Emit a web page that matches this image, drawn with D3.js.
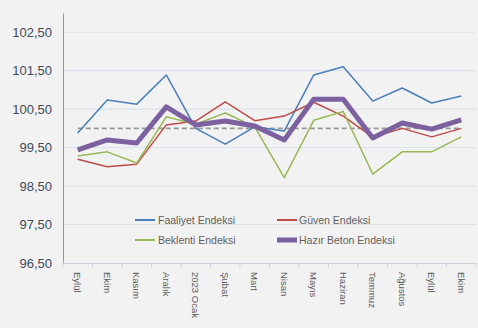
<!DOCTYPE html>
<html><head><meta charset="utf-8">
<script src="https://cdn.jsdelivr.net/npm/d3@7"></script>
<style>html,body{margin:0;padding:0;background:#f2f2f2;}svg{display:block;}</style>
</head><body>
<svg id="c" width="478" height="328"></svg>
<script>
const categories = ["Eylül","Ekim","Kasım","Aralık","2023 Ocak","Şubat","Mart","Nisan","Mayıs","Haziran","Temmuz","Ağustos","Eylül","Ekim"];
const faaliyet = [99.88,100.74,100.63,101.39,100.00,99.59,100.04,99.93,101.39,101.60,100.71,101.05,100.66,100.84];
const guven    = [99.20,99.00,99.07,100.09,100.19,100.69,100.20,100.32,100.68,100.32,99.77,100.00,99.78,100.00];
const beklenti = [99.28,99.39,99.10,100.30,100.11,100.40,100.04,98.72,100.21,100.44,98.81,99.39,99.39,99.78];
const hazir    = [99.44,99.70,99.62,100.56,100.09,100.19,100.06,99.70,100.76,100.76,99.75,100.14,99.98,100.22];
const refValue = 100;
const yTicks = [96.5,97.5,98.5,99.5,100.5,101.5,102.5];
const seriesNames = ["Faaliyet Endeksi","Güven Endeksi","Beklenti Endeksi","Hazır Beton Endeksi"];

const svg = d3.select("#c");
const mLeft = 63, mRight = 476, mTop = 13, mBottom = 263;
const x = d3.scaleBand().domain(d3.range(categories.length)).range([mLeft, mRight]);
const y = d3.scaleLinear().domain([96.5, 103]).range([mBottom, mTop]);
const fmt = v => d3.format(".2f")(v).replace(".", ",");

// gridlines
svg.append("g").selectAll("line").data(yTicks.slice(1)).join("line")
  .attr("x1", mLeft).attr("x2", mRight)
  .attr("y1", d => y(d)).attr("y2", d => y(d))
  .attr("stroke", "#d6e0ec").attr("stroke-width", 1);

// y axis
const ya = svg.append("g").attr("transform", `translate(${mLeft},0)`)
  .call(d3.axisLeft(y).tickValues(yTicks).tickFormat(fmt).tickSize(0).tickPadding(11));
ya.select(".domain").attr("stroke", "#8498b8");
ya.selectAll("text").attr("font-family", "Liberation Sans, Arial, sans-serif").attr("font-size", 13).attr("fill", "#3f4a5a");

// x axis
const xa = svg.append("g").attr("transform", `translate(0,${mBottom})`)
  .call(d3.axisBottom(x).tickFormat(i => categories[i]).tickSize(0));
xa.select(".domain").attr("stroke", "#c9d3df");
xa.selectAll(".tick text")
  .attr("font-family", "Liberation Sans, Arial, sans-serif").attr("font-size", 9.5).attr("fill", "#5a5a5a")
  .attr("transform", "rotate(90)").attr("text-anchor", "start")
  .attr("x", 9).attr("y", 0).attr("dy", "0.35em");
// band boundary ticks
svg.append("g").selectAll("line").data(d3.range(categories.length + 1)).join("line")
  .attr("x1", i => mLeft + i * x.step()).attr("x2", i => mLeft + i * x.step())
  .attr("y1", mBottom).attr("y2", mBottom + 4)
  .attr("stroke", "#c9d3df");

const cx = i => x(i) + x.bandwidth() / 2;
const line = d3.line().x((d, i) => cx(i)).y(d => y(d));

// reference dashed line
svg.append("line")
  .attr("x1", cx(0)).attr("x2", cx(categories.length - 1))
  .attr("y1", y(refValue)).attr("y2", y(refValue))
  .attr("stroke", "#999").attr("stroke-width", 1.6).attr("stroke-dasharray", "5,3");

const series = [
  {name: seriesNames[0], data: faaliyet, color: "#4a7ebb", w: 1.5},
  {name: seriesNames[1], data: guven, color: "#be4b48", w: 1.5},
  {name: seriesNames[2], data: beklenti, color: "#98b954", w: 1.5},
  {name: seriesNames[3], data: hazir, color: "#7d60a0", w: 5}
];
series.forEach(s => {
  svg.append("path").datum(s.data).attr("d", line)
    .attr("fill", "none").attr("stroke", s.color).attr("stroke-width", s.w)
    .attr("stroke-linejoin", "round");
});

// legend
const legPos = [[135, 220], [277, 220], [135, 240], [277, 240]];
series.forEach((s, i) => {
  const [lx, ly] = legPos[i];
  svg.append("line").attr("x1", lx).attr("x2", lx + 20).attr("y1", ly).attr("y2", ly)
    .attr("stroke", s.color).attr("stroke-width", s.w === 5 ? 5 : 2);
  svg.append("text").attr("x", lx + (i % 2 ? 22 : 23)).attr("y", ly).attr("dy", "0.35em")
    .attr("font-family", "Liberation Sans, Arial, sans-serif").attr("font-size", 10.5).attr("fill", "#606060")
    .text(s.name);
});
</script>
</body></html>
